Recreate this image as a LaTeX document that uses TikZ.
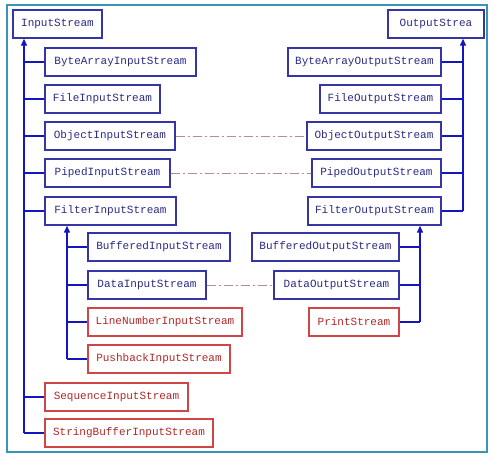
\documentclass[tikz,border=0pt]{standalone}
\usepackage{fontspec}
\setmonofont{Liberation Mono}
\usetikzlibrary{arrows.meta}
\definecolor{boxblue}{HTML}{3535A5}
\definecolor{txtblue}{HTML}{2A2A85}
\definecolor{lineblue}{HTML}{1515C0}
\definecolor{boxred}{HTML}{D04545}
\definecolor{txtred}{HTML}{B02828}
\definecolor{dashc}{HTML}{C08A8A}
\definecolor{framec}{HTML}{3A95B5}
\tikzset{
  cls/.style={draw=boxblue, line width=1.4pt, text=txtblue, font=\ttfamily\fontsize{11}{13}\selectfont, minimum height=28pt, inner sep=0pt, fill=white},
  clsred/.style={cls, draw=boxred, text=txtred},
  conn/.style={draw=lineblue, line width=1.4pt},
  arr/.style={conn, -{Triangle[width=6pt,length=7pt]}},
  rel/.style={draw=dashc, line width=1pt, dash pattern=on 9pt off 3pt on 2pt off 3pt},
}
\begin{document}
\begin{tikzpicture}[x=1pt,y=-1pt]
\useasboundingbox (0,0) rectangle (495,458);
\draw[framec, line width=1.2pt] (7,5) rectangle (487,452);
% input side
\node[cls, minimum width=89pt] (is) at (57.5,24) {InputStream};
\node[cls, minimum width=151pt] (bais) at (120.5,62) {ByteArrayInputStream};
\node[cls, minimum width=115pt] (fis) at (102.5,99) {FileInputStream};
\node[cls, minimum width=130pt] (ois) at (110,136) {ObjectInputStream};
\node[cls, minimum width=125pt] (pis) at (107.5,173) {PipedInputStream};
\node[cls, minimum width=131pt] (filis) at (110.5,211) {FilterInputStream};
\node[cls, minimum width=142pt] (buis) at (159,247) {BufferedInputStream};
\node[cls, minimum width=118pt] (dis) at (147,285) {DataInputStream};
\node[clsred, minimum width=154pt] (lnis) at (165,322) {LineNumberInputStream};
\node[clsred, minimum width=142pt] (pbis) at (159,359) {PushbackInputStream};
\node[clsred, minimum width=143pt] (sis) at (116.5,397) {SequenceInputStream};
\node[clsred, minimum width=168pt] (sbis) at (129,433) {StringBufferInputStream};
% output side
\node[cls, minimum width=96pt] (os) at (436,24) {OutputStrea};
\node[cls, minimum width=153pt] (baos) at (364.5,62) {ByteArrayOutputStream};
\node[cls, minimum width=121pt] (fos) at (380.5,99) {FileOutputStream};
\node[cls, minimum width=134pt] (oos) at (374,136) {ObjectOutputStream};
\node[cls, minimum width=129pt] (pos) at (376.5,173) {PipedOutputStream};
\node[cls, minimum width=133pt] (filos) at (374.5,211) {FilterOutputStream};
\node[cls, minimum width=147pt] (buos) at (325.5,247) {BufferedOutputStream};
\node[cls, minimum width=125pt] (dos) at (336.5,285) {DataOutputStream};
\node[clsred, minimum width=90pt] (ps) at (354,322) {PrintStream};
% trunks
\coordinate (lt) at (24,433);
\coordinate (ft) at (67,359);
\coordinate (rt) at (463,211);
\coordinate (frt) at (420,322);
\draw[arr] (lt) -- (lt |- is.south);
\foreach \n in {bais,fis,ois,pis,filis,sis,sbis} \draw[conn] (\n.west) -- (\n.west -| lt);
\draw[arr] (ft) -- (ft |- filis.south);
\foreach \n in {buis,dis,lnis,pbis} \draw[conn] (\n.west) -- (\n.west -| ft);
\draw[arr] (rt) -- (rt |- os.south);
\foreach \n in {baos,fos,oos,pos,filos} \draw[conn] (\n.east) -- (\n.east -| rt);
\draw[arr] (frt) -- (frt |- filos.south);
\foreach \n in {buos,dos,ps} \draw[conn] (\n.east) -- (\n.east -| frt);
% relations
\draw[rel] (ois.east) -- (oos.west);
\draw[rel] (pis.east) -- (pos.west);
\draw[rel] (dis.east) -- (dos.west);
\end{tikzpicture}
\end{document}
